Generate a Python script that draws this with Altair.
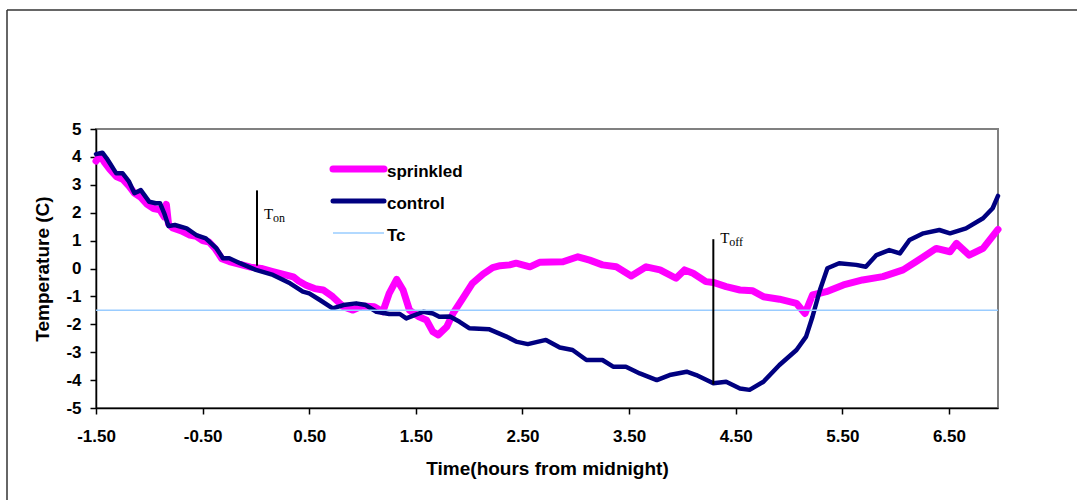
import altair as alt
import pandas as pd

# ---------------- data ----------------
sprinkled_time = [-1.50, -1.46, -1.42, -1.37, -1.31, -1.25, -1.19, -1.14, -1.08, -1.02,
                  -0.96, -0.90, -0.86, -0.84, -0.82, -0.78, -0.70, -0.62, -0.56, -0.50,
                  -0.44, -0.38, -0.32, -0.25, -0.15, -0.05, 0.05, 0.15, 0.25, 0.35,
                  0.40, 0.47, 0.55, 0.63, 0.72, 0.82, 0.91, 1.00, 1.11, 1.19,
                  1.25, 1.32, 1.38, 1.44, 1.53, 1.60, 1.66, 1.71, 1.79, 1.85,
                  1.94, 2.03, 2.13, 2.22, 2.29, 2.38, 2.44, 2.57, 2.66, 2.88,
                  3.02, 3.13, 3.25, 3.38, 3.52, 3.66, 3.79, 3.94, 4.02, 4.10,
                  4.22, 4.29, 4.41, 4.54, 4.66, 4.76, 4.91, 5.07, 5.15, 5.22,
                  5.35, 5.51, 5.69, 5.88, 6.07, 6.19, 6.38, 6.51, 6.57, 6.69,
                  6.82, 6.96]
sprinkled_temp = [3.85, 4.05, 3.80, 3.55, 3.30, 3.20, 2.95, 2.70, 2.55, 2.30,
                  2.15, 2.10, 1.85, 2.30, 1.60, 1.45, 1.35, 1.20, 1.15, 1.00,
                  0.95, 0.70, 0.35, 0.25, 0.15, 0.05, 0.00, -0.10, -0.20, -0.30,
                  -0.45, -0.60, -0.72, -0.77, -1.01, -1.37, -1.49, -1.34, -1.37, -1.55,
                  -0.89, -0.39, -0.77, -1.49, -1.73, -1.85, -2.27, -2.38, -2.09, -1.60,
                  -1.07, -0.53, -0.20, 0.03, 0.10, 0.13, 0.19, 0.06, 0.22, 0.24,
                  0.42, 0.30, 0.13, 0.06, -0.27, 0.06, -0.05, -0.35, -0.05, -0.17,
                  -0.47, -0.50, -0.65, -0.77, -0.80, -1.01, -1.10, -1.25, -1.61, -0.95,
                  -0.83, -0.59, -0.41, -0.29, -0.05, 0.24, 0.72, 0.60, 0.90, 0.48,
                  0.72, 1.40]

control_time = [-1.50, -1.44, -1.40, -1.37, -1.31, -1.25, -1.19, -1.14, -1.08, -1.00,
                -0.94, -0.90, -0.86, -0.82, -0.76, -0.65, -0.56, -0.47, -0.37, -0.31,
                -0.25, -0.15, 0.00, 0.16, 0.32, 0.44, 0.50, 0.60, 0.72, 0.82,
                0.94, 1.03, 1.13, 1.25, 1.35, 1.41, 1.57, 1.66, 1.72, 1.82,
                1.91, 2.00, 2.19, 2.35, 2.44, 2.55, 2.72, 2.85, 2.97, 3.10,
                3.25, 3.35, 3.47, 3.60, 3.76, 3.88, 4.04, 4.13, 4.29, 4.41,
                4.54, 4.63, 4.76, 4.91, 5.07, 5.16, 5.22, 5.29, 5.36, 5.47,
                5.63, 5.72, 5.82, 5.94, 6.04, 6.13, 6.26, 6.41, 6.51, 6.66,
                6.82, 6.91, 6.96]
control_temp = [4.10, 4.15, 3.95, 3.77, 3.41, 3.41, 3.11, 2.70, 2.81, 2.39,
                2.34, 2.34, 1.98, 1.52, 1.56, 1.44, 1.20, 1.08, 0.72, 0.37,
                0.37, 0.19, -0.05, -0.23, -0.53, -0.83, -0.89, -1.13, -1.43, -1.31,
                -1.25, -1.31, -1.55, -1.63, -1.63, -1.79, -1.55, -1.61, -1.73, -1.72,
                -1.91, -2.14, -2.18, -2.44, -2.62, -2.71, -2.56, -2.83, -2.92, -3.28,
                -3.28, -3.52, -3.52, -3.76, -4.00, -3.82, -3.70, -3.82, -4.11, -4.06,
                -4.30, -4.35, -4.06, -3.46, -2.92, -2.44, -1.73, -0.77, 0.01, 0.19,
                0.13, 0.06, 0.48, 0.66, 0.54, 1.02, 1.26, 1.38, 1.26, 1.44,
                1.80, 2.16, 2.60]

tc_value = -1.5

marker_names = ["on", "off"]
marker_time = [0.01, 4.29]
marker_top = [2.8, 1.05]
marker_bottom = [0.1, -4.15]
marker_label_y = [1.77, 0.91]

x_ticks = [-1.5, -0.5, 0.5, 1.5, 2.5, 3.5, 4.5, 5.5, 6.5]
y_ticks = [-5, -4, -3, -2, -1, 0, 1, 2, 3, 4, 5]
x_domain = [-1.5, 6.96]
y_domain = [-5, 5]

legend_labels = ["sprinkled", "control", "Tc"]
legend_colors = ["#FF00FF", "#000080", "#99CCFF"]
legend_widths = [7, 5, 1.5]

# ---------------- chart ----------------
FONT = "Liberation Sans"
SERIF = "Liberation Serif"

df_s = pd.DataFrame({"time": sprinkled_time, "temp": sprinkled_temp})
df_c = pd.DataFrame({"time": control_time, "temp": control_temp})
df_tc = pd.DataFrame({"tc": [tc_value]})
df_m = pd.DataFrame({"name": marker_names, "t": marker_time, "top": marker_top,
                     "bottom": marker_bottom, "ly": marker_label_y})

x_scale = alt.Scale(domain=x_domain, nice=False, zero=False)
y_scale = alt.Scale(domain=y_domain, nice=False, zero=False)

x_axis = alt.Axis(values=x_ticks, title="Time(hours from midnight)",
                  labelExpr="datum.value < 0 ? '-' + format(-datum.value, '.2f') : format(datum.value, '.2f')",
                  grid=False, tickSize=6, labelPadding=14, labelFlush=False,
                  labelOverlap=False, titleY=60, titleBaseline="middle")
y_axis = alt.Axis(values=y_ticks, title="Temperature (C)", grid=False,
                  labelExpr="datum.value < 0 ? '-' + format(-datum.value, 'd') : format(datum.value, 'd')",
                  labelOverlap=False, labelFlush=False, labelSeparation=0,
                  tickSize=6, labelPadding=9, titleX=-54, titleBaseline="middle")

base_x = alt.X("time:Q", scale=x_scale, axis=x_axis)
base_y = alt.Y("temp:Q", scale=y_scale, axis=y_axis)

sprinkled = alt.Chart(df_s).mark_line(color=legend_colors[0], strokeWidth=7,
                                      strokeCap="round", strokeJoin="round").encode(
    x=base_x, y=base_y, order="time:Q")
control = alt.Chart(df_c).mark_line(color=legend_colors[1], strokeWidth=4.5,
                                    strokeCap="round", strokeJoin="round").encode(
    x=alt.X("time:Q", scale=x_scale, axis=x_axis), y=alt.Y("temp:Q", scale=y_scale, axis=y_axis),
    order="time:Q")
tc = alt.Chart(df_tc).mark_rule(color=legend_colors[2], strokeWidth=1.5).encode(
    y=alt.Y("tc:Q", scale=y_scale, axis=y_axis))

marker_rules = alt.Chart(df_m).mark_rule(color="black", strokeWidth=2).encode(
    x=alt.X("t:Q", scale=x_scale, axis=x_axis), y=alt.Y("top:Q", scale=y_scale, axis=y_axis),
    y2="bottom:Q")
marker_T = alt.Chart(df_m).mark_text(font=SERIF, fontSize=15, align="left",
                                     baseline="alphabetic", dx=7, color="black").encode(
    x=alt.X("t:Q", scale=x_scale, axis=x_axis), y=alt.Y("ly:Q", scale=y_scale, axis=y_axis),
    text=alt.value("T"))
marker_sub = alt.Chart(df_m).mark_text(font=SERIF, fontSize=12, align="left",
                                       baseline="alphabetic", dx=16, dy=3, color="black").encode(
    x=alt.X("t:Q", scale=x_scale, axis=x_axis), y=alt.Y("ly:Q", scale=y_scale, axis=y_axis),
    text="name:N")

one = pd.DataFrame({"k": [0]})
legend_layers = []
for i, (lab, col, w) in enumerate(zip(legend_labels, legend_colors, legend_widths)):
    ly = 40 + 32 * i
    legend_layers.append(alt.Chart(one).mark_rule(color=col, strokeWidth=w,
                                                  strokeCap="round" if w > 2 else "butt").encode(
        x=alt.value(237), x2=alt.value(288), y=alt.value(ly)))
    legend_layers.append(alt.Chart(one).mark_text(font=FONT, fontWeight="bold", fontSize=17,
                                                  align="left", baseline="middle",
                                                  color="black").encode(
        x=alt.value(291), y=alt.value(ly + 3), text=alt.value(lab)))

frame_top = alt.Chart(one).mark_rule(color="#333333", strokeWidth=1.5).encode(
    x=alt.value(-89), x2=alt.value(1000), y=alt.value(-119))
frame_left = alt.Chart(one).mark_rule(color="#333333", strokeWidth=1.5).encode(
    x=alt.value(-89), y=alt.value(-119), y2=alt.value(400))

chart = alt.layer(
    frame_top, frame_left, sprinkled, control, tc, marker_rules, marker_T, marker_sub,
    *legend_layers
).properties(
    width=902, height=279,
    padding={"left": 96, "top": 129, "right": 79, "bottom": 92},
    autosize=alt.AutoSizeParams(type="none"),
    background="white",
).configure_view(
    stroke="#808080", strokeWidth=2
).configure_axis(
    domainColor="black", domainWidth=1.5, tickColor="black", tickWidth=1.5,
    labelFont=FONT, labelFontWeight="bold", labelFontSize=17, labelColor="black",
    titleFont=FONT, titleFontWeight="bold", titleFontSize=19, titleColor="black",
    labelOverlap=False,
).configure_axisY(
    labelOverlap=False, labelSeparation=0,
)

chart.save("out.html", embed_options={"renderer": "svg", "actions": False})
